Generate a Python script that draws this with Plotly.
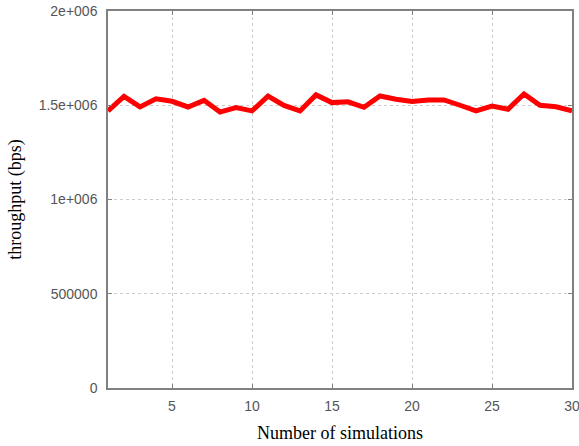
import plotly.graph_objects as go

simulations = list(range(1, 31))
throughput = [1470000, 1547000, 1491000, 1534000, 1521000, 1491000, 1526000, 1464000, 1488000, 1470000,
              1548000, 1499000, 1470000, 1555000, 1514000, 1518000, 1489000, 1549000, 1532000, 1520000,
              1528000, 1528000, 1500000, 1470000, 1496000, 1479000, 1560000, 1500000, 1492000, 1470000]

x_ticks = [5, 10, 15, 20, 25, 30]
y_ticks = [0, 500000, 1000000, 1500000, 2000000]
y_tick_text = ["0", "500000", "1e+006", "1.5e+006", "2e+006"]

fig = go.Figure()
fig.add_trace(go.Scatter(
    x=simulations, y=throughput, mode="lines",
    line=dict(color="#ff0000", width=5),
    showlegend=False,
))

axis_common = dict(
    showline=True, linecolor="#808080", linewidth=1.5, mirror="ticks",
    ticks="inside", ticklen=4, tickcolor="#808080", tickwidth=1,
    showgrid=True, gridcolor="#cccccc", griddash="dot", gridwidth=1,
    zeroline=False, automargin=False, ticklabeloverflow="allow",
    tickfont=dict(family="Liberation Sans, Arial, sans-serif", size=14, color="#555555"),
)

fig.update_xaxes(
    range=[1, 30], tickvals=x_ticks, ticklabelstandoff=4,
    title=dict(text="Number of simulations", standoff=14,
               font=dict(family="Liberation Serif, Times New Roman, serif", size=18, color="#000000")),
    **axis_common,
)
fig.update_yaxes(
    range=[0, 2000000], tickvals=y_ticks, ticktext=y_tick_text, ticklabelstandoff=6,
    title=dict(text="throughput (bps)", standoff=12,
               font=dict(family="Liberation Serif, Times New Roman, serif", size=18, color="#000000")),
    **axis_common,
)

fig.update_layout(
    width=579, height=446,
    margin=dict(l=108, r=7, t=11, b=58),
    paper_bgcolor="white", plot_bgcolor="white",
)

fig.write_html("out.html", config={"displayModeBar": False},
               post_script="document.body.style.margin='0';document.body.style.overflow='hidden';")
